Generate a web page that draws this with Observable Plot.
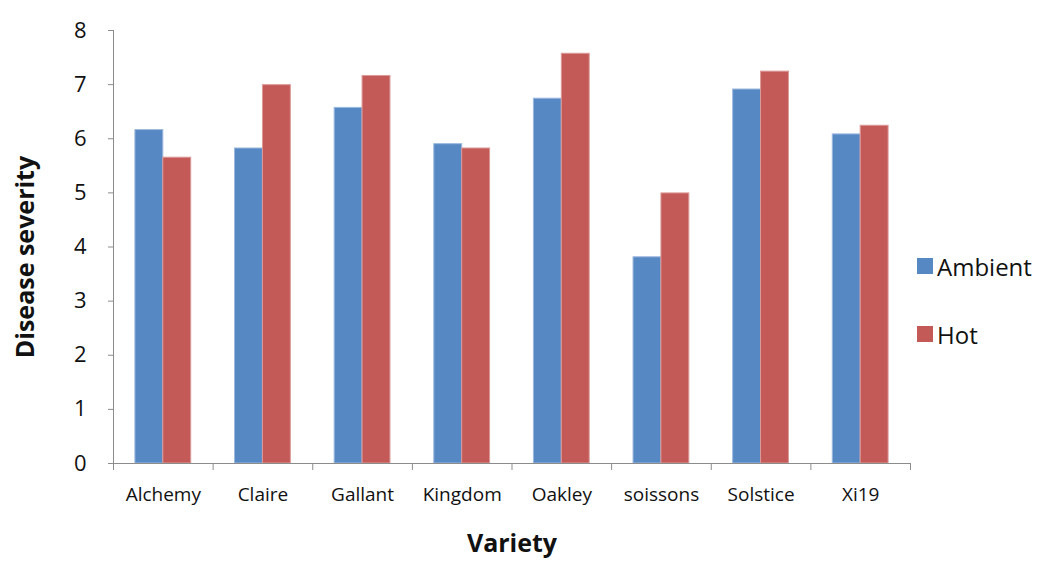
<!DOCTYPE html>
<html>
<head>
<meta charset="utf-8">
<script src="https://cdn.jsdelivr.net/npm/d3@7"></script>
<script src="https://cdn.jsdelivr.net/npm/@observablehq/plot@0.6"></script>
<style>
  html, body { margin: 0; padding: 0; background: #fff; }
  #wrap { position: relative; width: 1045px; height: 561px; font-family: "Open Sans", sans-serif; }
  #legend { position: absolute; left: 917px; top: 249px; font-size: 24px; color: #111; }
  .item { display: flex; align-items: center; height: 34px; margin-bottom: 34px; }
  .sw { width: 16px; height: 16px; margin-right: 4px; }
</style>
</head>
<body>
<div id="wrap"><div id="legend"></div></div>
<script>
const varieties = ["Alchemy", "Claire", "Gallant", "Kingdom", "Oakley", "soissons", "Solstice", "Xi19"];
const series = ["Ambient", "Hot"];
const ambient = [6.16, 5.82, 6.57, 5.90, 6.74, 3.81, 6.91, 6.08];
const hot = [5.65, 6.99, 7.16, 5.82, 7.57, 4.99, 7.24, 6.24];
const yTicks = [0, 1, 2, 3, 4, 5, 6, 7, 8];
const colors = ["#5688C3", "#C35A57"];

const barW = 0.28;
const data = [];
varieties.forEach((v, i) => {
  data.push({variety: v, i, series: "Ambient", value: ambient[i]});
  data.push({variety: v, i, series: "Hot", value: hot[i]});
});

const font = '"Open Sans", sans-serif';

const chart = Plot.plot({
  width: 1045,
  height: 561,
  marginLeft: 113,
  marginRight: 135,
  marginTop: 30,
  marginBottom: 98,
  style: {fontFamily: font, fontSize: "20px", color: "#111", background: "transparent"},
  x: {type: "linear", domain: [0, varieties.length]},
  y: {domain: [0, 8]},
  color: {domain: series, range: colors},
  marks: [
    Plot.rectY(data, {
      x1: d => d.i + 0.5 - (d.series === "Ambient" ? barW : 0),
      x2: d => d.i + 0.5 + (d.series === "Hot" ? barW : 0),
      y: "value",
      fill: "series",
      stroke: d => d.series === "Ambient" ? "#9bb8de" : "#dc9a98",
      strokeWidth: 1
    }),
    Plot.axisY({ticks: yTicks, tickSize: 5, tickPadding: 22, stroke: "#8c8c8c", label: null, fontSize: 22}),
    Plot.ruleX([0], {stroke: "#8c8c8c"}),
    Plot.ruleY([0], {stroke: "#8c8c8c"}),
    Plot.axisX({ticks: d3.range(0, varieties.length + 1), tickSize: 7, tickFormat: () => "", stroke: "#8c8c8c", label: null}),
    Plot.axisX({ticks: varieties.map((_, i) => i + 0.5), tickSize: 0, tickPadding: 24, tickFormat: i => varieties[Math.floor(i)], label: null, fontSize: 19}),
    Plot.text(["Variety"], {frameAnchor: "bottom", dy: 88, fontWeight: "bold", fontSize: 25}),
    Plot.text(["Disease severity"], {frameAnchor: "left", textAnchor: "middle", dx: -88, dy: 10, rotate: -90, fontWeight: "bold", fontSize: 25})
  ]
});

document.getElementById("wrap").prepend(chart);

const legend = document.getElementById("legend");
series.forEach((s, k) => {
  const item = document.createElement("div");
  item.className = "item";
  item.innerHTML = `<span class="sw" style="background:${colors[k]}"></span><span>${s}</span>`;
  legend.appendChild(item);
});
</script>
</body>
</html>
